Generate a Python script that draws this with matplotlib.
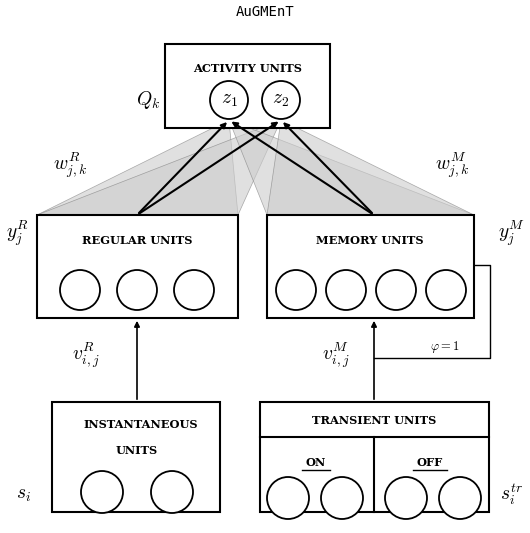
import matplotlib

matplotlib.use("Agg")

import matplotlib.pyplot as plt
from matplotlib.patches import Rectangle, Circle, Polygon

plt.rcParams["mathtext.fontset"] = "cm"

# boxes: name -> (x0, y0, x1, y1) in pixel coords
BOXES = {
    "activity": (165, 44, 330, 128),
    "regular": (37, 215, 238, 318),
    "memory": (267, 215, 474, 318),
    "instant": (52, 402, 220, 512),
    "transient": (260, 402, 489, 512),
}
BOX_LABELS = [
    ("ACTIVITY UNITS", 248, 68),
    ("REGULAR UNITS", 137, 240),
    ("MEMORY UNITS", 370, 240),
    ("INSTANTANEOUS", 141, 425),
    ("UNITS", 137, 450),
    ("TRANSIENT UNITS", 374, 421),
]
Z_UNITS = [(229, 100, "$z_1$"), (281, 100, "$z_2$")]
REGULAR_X = [80, 137, 194]
MEMORY_X = [296, 346, 396, 446]
INSTANT_X = [102, 172]
TRANSIENT_X = [288, 342, 406, 460]
MATH_LABELS = [
    ("$Q_k$", 148, 100), ("$w^R_{j,k}$", 70, 165), ("$w^M_{j,k}$", 452, 165),
    ("$y^R_j$", 18, 233), ("$y^M_j$", 512, 233), ("$v^R_{i,j}$", 86, 355),
    ("$v^M_{i,j}$", 336, 355), ("$s_i$", 24, 494), ("$s^{tr}_i$", 512, 494),
]

fig = plt.figure(figsize=(5.30, 5.33), dpi=100)
ax = fig.add_axes([0, 0, 1, 1])
ax.set_xlim(0, 530)
ax.set_ylim(533, 0)
ax.axis("off")

# gray weight fans
for src in ("regular", "memory"):
    x0, y0, x1, _ = BOXES[src]
    for zx, zy, _ in Z_UNITS:
        ax.add_patch(Polygon([(x0, y0), (x1, y0), (zx, zy + 20)], closed=True,
                             facecolor="#cccccc", edgecolor="#777777", lw=0.5, alpha=0.6, zorder=1))

for key, (x0, y0, x1, y1) in BOXES.items():
    ax.add_patch(Rectangle((x0, y0), x1 - x0, y1 - y0, facecolor="white",
                           edgecolor="black", lw=1.5, zorder=2))
ax.plot([260, 489], [437, 437], color="black", lw=1.5, zorder=3)
ax.plot([374, 374], [437, 512], color="black", lw=1.5, zorder=3)

for text, x, y in BOX_LABELS:
    ax.text(x, y, text, ha="center", va="center", family="DejaVu Serif",
            fontweight="bold", fontsize=8.2, zorder=4)
ax.text(316, 462, "ON", ha="center", va="center", family="DejaVu Serif", fontweight="bold", fontsize=8.2)
ax.text(430, 462, "OFF", ha="center", va="center", family="DejaVu Serif", fontweight="bold", fontsize=8.2)
ax.plot([302, 330], [470, 470], color="black", lw=1)
ax.plot([413, 447], [470, 470], color="black", lw=1)

def circle(x, y, r=20):
    ax.add_patch(Circle((x, y), r, facecolor="white", edgecolor="black", lw=1.3, zorder=5))

for zx, zy, lab in Z_UNITS:
    circle(zx, zy, 19)
    ax.text(zx, zy, lab, ha="center", va="center", fontsize=14, zorder=6)
for x in REGULAR_X:
    circle(x, 290)
for x in MEMORY_X:
    circle(x, 290)
for x in INSTANT_X:
    circle(x, 492, 21)
for x in TRANSIENT_X:
    circle(x, 498, 21)

def arrow(x0, y0, x1, y1, lw=1.5):
    ax.annotate("", xy=(x1, y1), xytext=(x0, y0), zorder=7,
                arrowprops=dict(arrowstyle="-|>", color="black", lw=lw, mutation_scale=8))

for sx in (137, 374):
    for zx, zy, _ in Z_UNITS:
        arrow(sx, 215, zx, zy + 20)
arrow(137, 402, 137, 318, 1.2)
arrow(374, 402, 374, 318, 1.2)
ax.plot([474, 490, 490, 374], [265, 265, 358, 358], color="black", lw=1)
ax.text(445, 347, r"$\varphi = 1$", ha="center", va="center", fontsize=9)

for text, x, y in MATH_LABELS:
    ax.text(x, y, text, ha="center", va="center", fontsize=14)
ax.text(265, 12, "AuGMEnT", ha="center", va="center", family="DejaVu Sans Mono", fontsize=10)

fig.savefig("out.png", dpi=100)
